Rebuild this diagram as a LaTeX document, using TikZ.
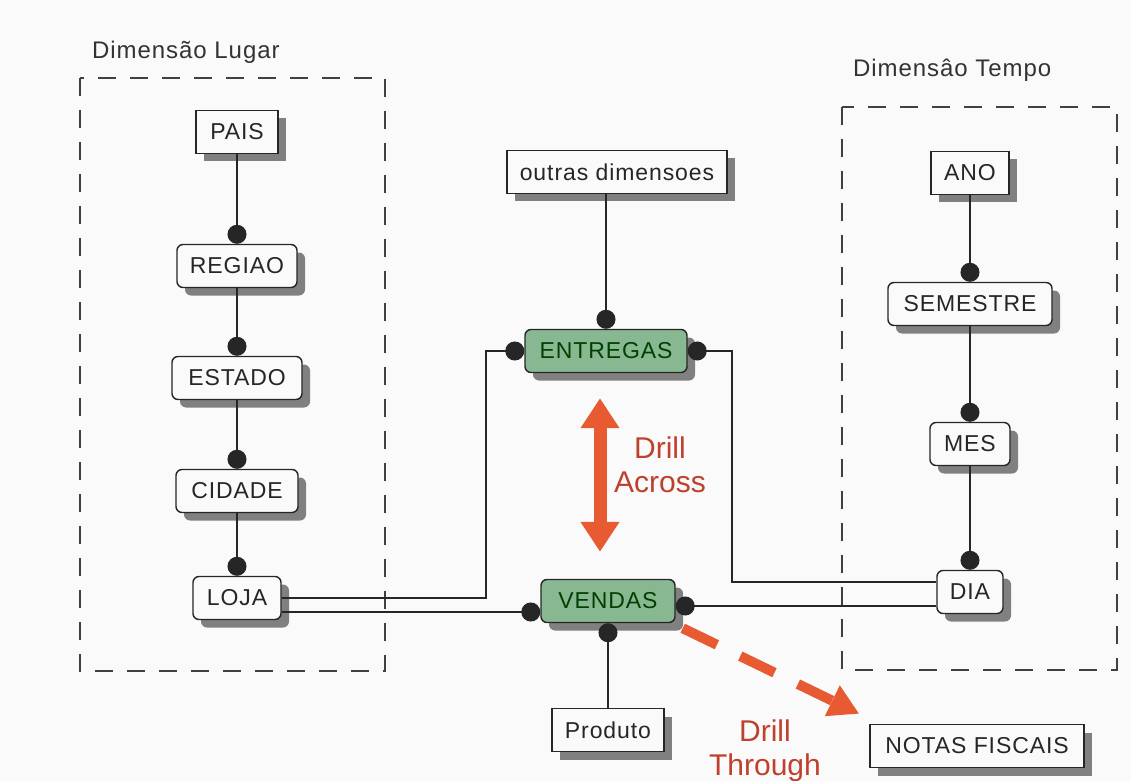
\documentclass[tikz,border=0pt]{standalone}
\usepackage{fontspec}
\setmainfont{Liberation Sans}
\newfontfamily\boxfont[LetterSpace=4]{Liberation Sans}
\usetikzlibrary{arrows.meta,shadows}
\definecolor{leaf}{HTML}{88B892}
\definecolor{brick}{HTML}{E85A32}
\definecolor{wine}{HTML}{C0402E}
\definecolor{paper}{HTML}{FAFAFA}
\tikzset{entity/.style={draw=black!85,line width=.7pt,fill=paper,minimum height=21.5pt,inner sep=2pt,font=\boxfont\fontsize{11.5}{13}\selectfont,text=black!85,drop shadow={shadow xshift=4pt,shadow yshift=-4pt,fill=black!50,opacity=1}},level/.style={entity,rounded corners=3pt},fact/.style={level,fill=leaf,text=black!75!green},dimbox/.style={draw=black!75,line width=1pt,dash pattern=on 9pt off 7pt},dimlabel/.style={font=\boxfont\fontsize{12}{14}\selectfont,text=black!80},link/.style={draw=black!85,line width=1pt,-{Circle[length=9.5pt]}},plain/.style={draw=black!85,line width=1pt},across/.style={draw=brick,line width=6.5pt,{Triangle[width=18.5pt,length=15pt]}-{Triangle[width=18.5pt,length=15pt]}},through/.style={draw=brick,line width=5pt,dash pattern=on 19pt off 13pt,-{Triangle[width=16pt,length=15pt]}},drill/.style={font=\fontsize{15}{17}\selectfont,text=wine,align=center}}

\begin{document}
\begin{tikzpicture}[x=.5pt,y=-.5pt]
\fill[paper] (0,0) rectangle (1131,781);
\useasboundingbox (0,0) rectangle (1131,781);
\draw[dimbox] (80,78) rectangle (385,671);
\draw[dimbox] (842,107) rectangle (1117,670);
\node[dimlabel,anchor=west] (lugar) at (85,52) {Dimensão Lugar};
\node[dimlabel,anchor=west] (tempo) at (846,70) {Dimensâo Tempo};
% dimensao lugar
\node[entity,minimum width=41pt] (pais) at (237,132) {PAIS};
\node[level,minimum width=60pt] (regiao) at (237,266) {REGIAO};
\node[level,minimum width=65pt] (estado) at (237,378) {ESTADO};
\node[level,minimum width=61pt] (cidade) at (237,491) {CIDADE};
\node[level,minimum width=44pt] (loja) at (237,598) {LOJA};
% dimensao tempo
\node[entity,minimum width=39pt] (ano) at (970,173) {ANO};
\node[level,minimum width=82pt] (semestre) at (970,304) {SEMESTRE};
\node[level,minimum width=40pt] (mes) at (970,444) {MES};
\node[level,minimum width=33pt] (dia) at (970,592) {DIA};
% fatos
\node[entity,minimum width=110pt] (outras) at (617,172) {outras dimensoes};
\node[fact,minimum width=81pt] (entregas) at (606,351) {ENTREGAS};
\node[fact,minimum width=67pt] (vendas) at (608,601) {VENDAS};
\node[entity,minimum width=56pt] (produto) at (608,730) {Produto};
\node[entity,minimum width=107pt] (notas) at (977,746) {NOTAS FISCAIS};
\foreach \a/\b in {pais/regiao,regiao/estado,estado/cidade,cidade/loja,ano/semestre,semestre/mes,mes/dia}\draw[link] (\a)--(\b);
\draw[link] (entregas.north |- outras.south) -- (entregas.north);
\draw[link] (loja.east) -- ++(204,0) |- (entregas.west);
\coordinate (lojab) at ([yshift=-7pt]loja.east);
\draw[link] (lojab) -- (lojab -| vendas.west);
\coordinate (diaup) at ([yshift=5pt]dia.west);
\draw[plain,{Circle[length=9.5pt]}-] (entregas.east) -- ++(44,0) |- (diaup);
\coordinate (vendr) at ([yshift=-2.5pt]vendas.east);
\draw[plain,{Circle[length=9.5pt]}-] (vendr) -- (vendr -| dia.west);
\draw[plain,{Circle[length=9.5pt]}-] (vendas) -- (produto);
% drill
\draw[across] ([xshift=-3pt,yshift=-12.5pt]entregas.south) -- ([xshift=-4pt,yshift=13.5pt]vendas.north);
\draw[through] ([xshift=3.5pt,yshift=-2.5pt]vendas.south east) -- ([xshift=-5pt,yshift=5pt]notas.north west);
\node[drill] (drillac) at (660,465) {Drill\\Across};
\node[drill] (drillth) at (765,751) {Drill\\Through};
\end{tikzpicture}
\end{document}
